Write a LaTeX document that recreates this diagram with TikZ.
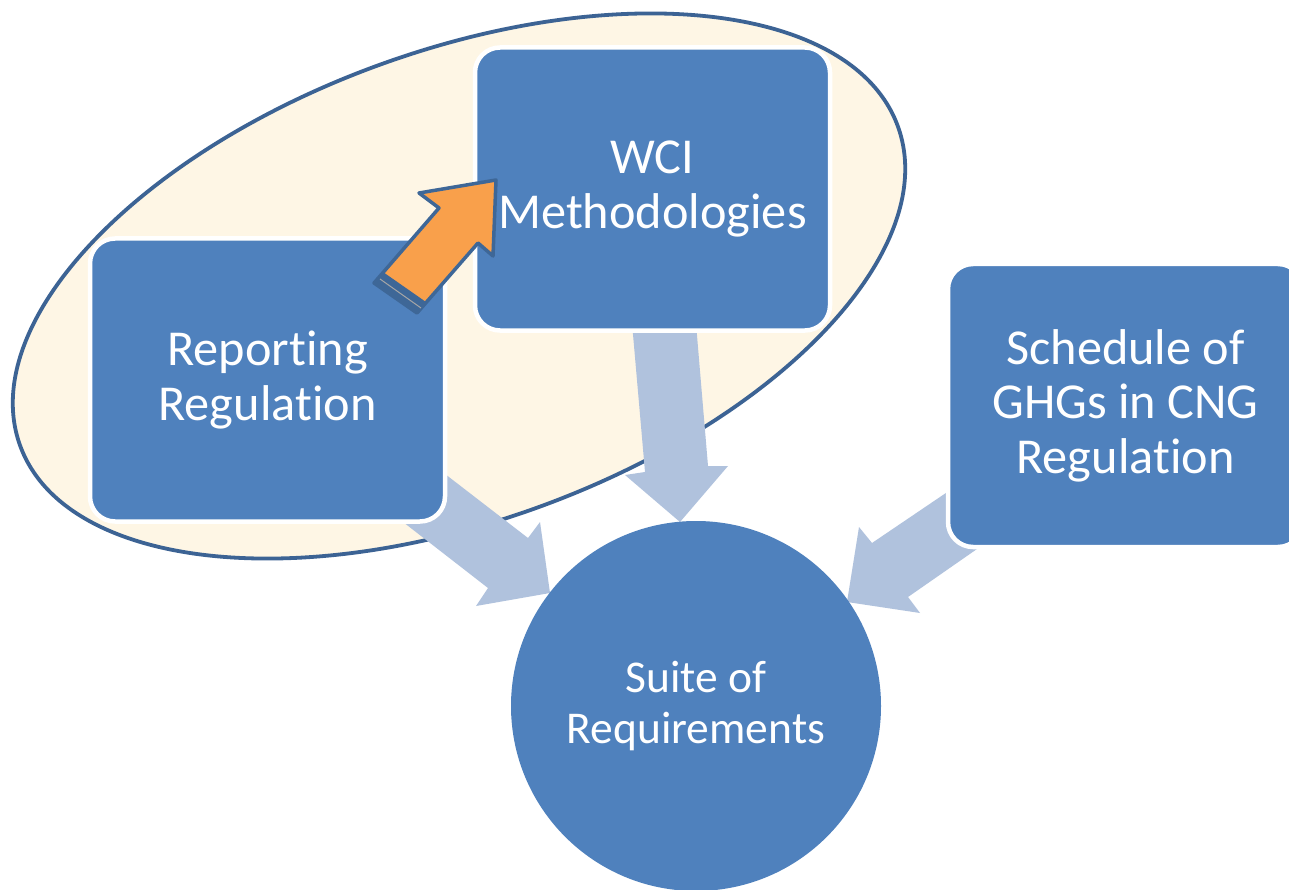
\documentclass[tikz,border=0pt]{standalone}
\usepackage{fontspec}
\setmainfont{Carlito}[Ligatures={NoCommon,NoContextual}, Contextuals=NoAlternate]
\usetikzlibrary{shapes.geometric}
\definecolor{boxblue}{HTML}{4F81BD}
\definecolor{cream}{HTML}{FEF6E5}
\definecolor{ovalline}{HTML}{3C6394}
\definecolor{flowblue}{HTML}{B0C2DD}
\definecolor{orangefill}{HTML}{F9A04B}
\definecolor{orangeline}{HTML}{3E6797}
\tikzset{
  blockbox/.style={rectangle, rounded corners=25pt, minimum width=355pt, minimum height=283pt,
    fill=boxblue, draw=white, line width=4.5pt, inner sep=0pt, align=center,
    text=white, font=\fontsize{50.3}{54.5}\selectfont},
  targetdisc/.style={circle, minimum size=370pt, fill=boxblue, inner sep=0pt, align=center,
    text=white, font=\fontsize{45.5}{51}\selectfont},
  flowarrow/.style={fill=flowblue},
}
\begin{document}
\begin{tikzpicture}[x=1pt,y=-1pt]
\useasboundingbox (0,0) rectangle (1289,890);
\fill[white] (0,0) rectangle (1289,890);

% cream oval
\node[ellipse, draw=ovalline, fill=cream, line width=3.8pt, minimum width=934pt,
  minimum height=470pt, rotate=20, inner sep=0pt] (oval) at (459,286) {};

% light blue block arrows (drawn under the boxes)
\fill[flowarrow] (410,447) -- (528,538) -- (540,522) -- (550,593) -- (476,606)
  -- (488,588) -- (367,494) -- cycle;
\fill[flowarrow] (630,300) -- (645,472) -- (625,475) -- (680,522) -- (728,466)
  -- (708,466) -- (694,300) -- cycle;
\fill[flowarrow] (971,476) -- (872,543) -- (859,527) -- (847,602) -- (920,613)
  -- (908,597) -- (1000,533) -- cycle;

% boxes
\node[blockbox] (rep) at (267.5,380) {Reporting\\Regulation};
\node[blockbox] (wci) at (652.5,189) {WCI\\Methodologies};
\node[blockbox] (sch) at (1125.5,405.5) {Schedule of\\GHGs in CNG\\Regulation};
\node[targetdisc] (suite) at (696,706) {Suite of\\Requirements};

% orange arrow from Reporting to WCI
\filldraw[fill=orangefill, draw=orangeline, line width=3.5pt, line join=round]
  (496,180) -- (419,193) -- (439,208) -- (374,283) -- (417,313) -- (478,243)
  -- (493,256) -- cycle;
\fill[orangeline] (374,283) -- (417,313) -- (426,302) -- (383,272) -- cycle;
\draw[gray!70, line width=1pt] (380,279) -- (421,308);
\end{tikzpicture}
\end{document}
